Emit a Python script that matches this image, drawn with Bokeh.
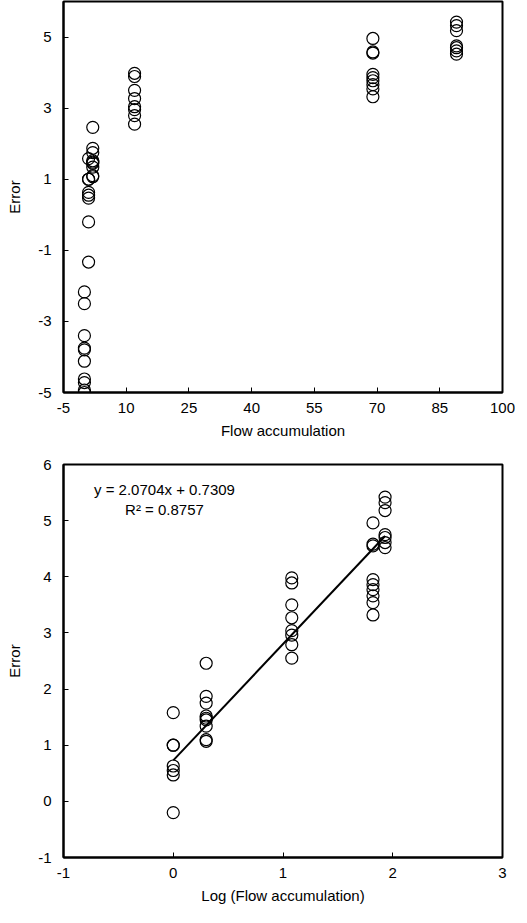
from bokeh.plotting import figure
from bokeh.layouts import column
from bokeh.models import ColumnDataSource, FixedTicker, Range1d
from bokeh.core.properties import value
from bokeh.embed import file_html
from bokeh.resources import INLINE

# ---- data ----
flow_accum = [0, 1, 2, 12, 69, 89]            # flow accumulation of each cluster
log_flow = [None, 0.0, 0.30, 1.08, 1.82, 1.93]  # log(flow accumulation) as plotted
errors = [
    [-2.17, -2.5, -3.4, -3.75, -3.8, -4.12, -4.62, -4.72, -4.93, -5.0],
    [1.58, 1.0, 1.0, 0.63, 0.55, 0.47, -0.2, -1.33],
    [2.46, 1.87, 1.75, 1.52, 1.48, 1.45, 1.34, 1.1, 1.07],
    [3.98, 3.89, 3.5, 3.27, 3.04, 2.96, 2.79, 2.55],
    [4.96, 4.58, 4.55, 3.95, 3.86, 3.77, 3.66, 3.54, 3.32],
    [5.42, 5.32, 5.18, 4.75, 4.70, 4.61, 4.52],
]
slope = 2.0704
intercept = 0.7309
r2 = 0.8757

top_xticks = [-5, 10, 25, 40, 55, 70, 85, 100]
top_yticks = [-5, -3, -1, 1, 3, 5]
bot_xticks = [-1, 0, 1, 2, 3]
bot_yticks = [-1, 0, 1, 2, 3, 4, 5, 6]

FONT = "Liberation Sans"

top_x, top_y, bot_x, bot_y = [], [], [], []
for fa, lf, errs in zip(flow_accum, log_flow, errors):
    for e in errs:
        top_x.append(fa)
        top_y.append(e)
        if lf is not None:
            bot_x.append(lf)
            bot_y.append(e)


def style(p, xticks, yticks, xlabel, ylabel):
    p.xgrid.visible = False
    p.ygrid.visible = False
    p.outline_line_color = "black"
    p.outline_line_width = 2
    p.xaxis.ticker = FixedTicker(ticks=xticks)
    p.yaxis.ticker = FixedTicker(ticks=yticks)
    p.xaxis.major_label_overrides = {t: str(t) for t in xticks}
    p.yaxis.major_label_overrides = {t: str(t) for t in yticks}
    p.xaxis.axis_label = xlabel
    p.yaxis.axis_label = ylabel
    for ax in (p.xaxis, p.yaxis):
        ax.axis_line_color = "black"
        ax.axis_line_width = 2
        ax.major_tick_in = 5
        ax.major_tick_out = 0
        ax.major_tick_line_color = "black"
        ax.minor_tick_line_color = None
        ax.major_label_text_font = FONT
        ax.major_label_text_font_size = "15px"
        ax.major_label_text_color = "black"
        ax.axis_label_text_font = FONT
        ax.axis_label_text_font_size = "15px"
        ax.axis_label_text_font_style = "normal"
        ax.axis_label_text_color = "black"
    p.xaxis.major_label_standoff = 10
    p.yaxis.major_label_standoff = 12
    p.xaxis.axis_label_standoff = 6
    p.yaxis.axis_label_standoff = 12


p1 = figure(width=515, height=444, x_range=Range1d(-5, 100), y_range=Range1d(-5, 6),
            output_backend="svg", toolbar_location=None,
            min_border_left=62, min_border_right=13, min_border_top=1, min_border_bottom=52)
style(p1, top_xticks, top_yticks, "Flow accumulation", "Error")
p1.scatter(x=top_x, y=top_y, size=12, marker="circle", fill_color=None,
           line_color="black", line_width=1.2)

p2 = figure(width=515, height=463, x_range=Range1d(-1, 3), y_range=Range1d(-1, 6),
            output_backend="svg", toolbar_location=None,
            min_border_left=63, min_border_right=13, min_border_top=20, min_border_bottom=50)
style(p2, bot_xticks, bot_yticks, "Log (Flow accumulation)", "Error")
p2.scatter(x=bot_x, y=bot_y, size=12, marker="circle", fill_color=None,
           line_color="black", line_width=1.2)
x_fit = [min(bot_x), max(bot_x)]
y_fit = [slope * v + intercept for v in x_fit]
p2.line(x=x_fit, y=y_fit, line_color="black", line_width=2)

eq_src = ColumnDataSource(dict(
    x=[-0.08, -0.08],
    y=[5.55, 5.2],
    t=[f"y = {slope}x + {intercept}", f"R\u00b2 = {r2}"],
))
p2.text(x="x", y="y", text="t", source=eq_src, text_align="center",
        text_baseline="middle", text_font=value(FONT), text_font_size="15px",
        text_color="black")

layout = column(p1, p2, spacing=0)
open("out.html", "w").write(file_html(layout, INLINE))
